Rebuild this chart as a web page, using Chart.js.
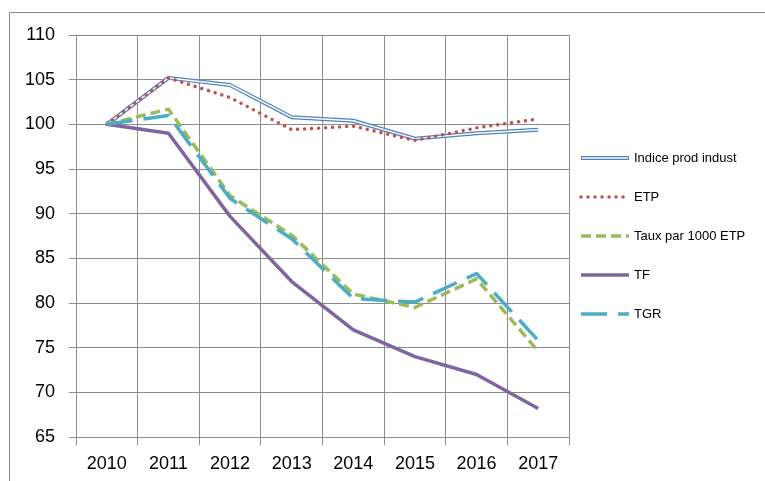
<!DOCTYPE html>
<html>
<head>
<meta charset="utf-8">
<script src="https://cdn.jsdelivr.net/npm/chart.js@4"></script>
<style>
  html, body { margin: 0; padding: 0; background: #fff; }
  #wrap { position: relative; width: 765px; height: 481px; overflow: hidden; }
  #frame { position: absolute; left: 9px; top: 12px; width: 800px; height: 500px;
           border-left: 1px solid #8a8a8a; border-top: 1px solid #8a8a8a; }
  canvas { position: absolute; left: 0; top: 0; }
</style>
</head>
<body>
<div id="wrap">
  <div id="frame"></div>
  <canvas id="chart" width="765" height="481"></canvas>
</div>
<script>
// values (base 100 in 2010)
const years = ['2010', '2011', '2012', '2013', '2014', '2015', '2016', '2017'];
const indiceProd = [100, 105.2, 104.4, 100.8, 100.4, 98.4, 99.0, 99.4];
const etp = [100, 105.2, 103.0, 99.4, 99.8, 98.2, 99.6, 100.6];
const tauxEtp = [100, 101.7, 92.0, 87.6, 81.0, 79.5, 82.7, 74.6];
const tf = [100, 99.0, 89.7, 82.4, 77.0, 74.0, 72.0, 68.2];
const tgr = [100, 101.0, 91.7, 87.2, 80.5, 80.1, 83.3, 75.8];

const yMin = 65, yMax = 110, yStep = 5;

// legend drawn at the right, like the Excel one
const legendPlugin = {
  id: 'sideLegend',
  afterDraw(chart) {
    const ctx = chart.ctx;
    const x0 = 581, x1 = 629;
    let y = 158;
    ctx.save();
    ctx.font = '13px "Liberation Sans", Arial, sans-serif';
    ctx.textBaseline = 'middle';
    chart.data.datasets.forEach(ds => {
      if (!ds.label) return;
      ctx.beginPath();
      ctx.setLineDash(ds.borderDash || []);
      ctx.lineCap = ds.borderCapStyle || 'butt';
      ctx.strokeStyle = ds.borderColor;
      ctx.lineWidth = ds.borderWidth;
      ctx.moveTo(x0, y);
      ctx.lineTo(x1, y);
      ctx.stroke();
      if (ds.doubleLine) {
        ctx.beginPath();
        ctx.setLineDash([]);
        ctx.strokeStyle = '#fff';
        ctx.lineWidth = 1.5;
        ctx.moveTo(x0 + 1, y);
        ctx.lineTo(x1 - 1, y);
        ctx.stroke();
      }
      ctx.setLineDash([]);
      ctx.fillStyle = '#000';
      ctx.fillText(ds.label, 634, y);
      y += 39;
    });
    ctx.restore();
  }
};

const ctx = document.getElementById('chart').getContext('2d');
const chart = new Chart(ctx, {
  type: 'line',
  data: {
    labels: years,
    datasets: [
      {
        label: 'Indice prod indust',
        data: indiceProd,
        borderColor: '#4F81BD',
        borderWidth: 4,
        doubleLine: true,
        order: 6
      },
      {
        label: '',
        data: indiceProd, // white core of the double line
        borderColor: '#fff',
        borderWidth: 1.5,
        order: 5
      },
      {
        label: 'ETP',
        data: etp,
        borderColor: '#C0504D',
        borderWidth: 3.5,
        borderDash: [0.01, 7],
        borderCapStyle: 'round',
        order: 4
      },
      {
        label: 'Taux par 1000 ETP',
        data: tauxEtp,
        borderColor: '#9BBB59',
        borderWidth: 3.5,
        borderDash: [10, 5],
        order: 3
      },
      {
        label: 'TF',
        data: tf,
        borderColor: '#8064A2',
        borderWidth: 3.5,
        order: 2
      },
      {
        label: 'TGR',
        data: tgr,
        borderColor: '#4BACC6',
        borderWidth: 3.5,
        borderDash: [26, 11],
        order: 1
      }
    ]
  },
  options: {
    responsive: false,
    animation: false,
    elements: {
      point: { radius: 0, hoverRadius: 0 },
      line: { tension: 0, fill: false, borderJoinStyle: 'round' }
    },
    layout: { padding: { top: 35, right: 196, left: 0, bottom: 0 } },
    scales: {
      x: {
        offset: true,
        grid: { offset: true, color: '#8c8c8c', lineWidth: 1, tickLength: 8 },
        border: { color: '#8c8c8c' },
        ticks: {
          color: '#000',
          padding: 8,
          maxRotation: 0,
          font: { family: '"Liberation Sans", Arial, sans-serif', size: 18 }
        },
        afterFit: s => { s.height = 44; }
      },
      y: {
        min: yMin,
        max: yMax,
        grid: { color: '#8c8c8c', lineWidth: 1, tickLength: 7 },
        border: { color: '#8c8c8c' },
        ticks: {
          stepSize: yStep,
          color: '#000',
          padding: 14,
          font: { family: '"Liberation Sans", Arial, sans-serif', size: 18 }
        },
        afterFit: s => { s.width = 76; }
      }
    },
    plugins: {
      legend: { display: false },
      tooltip: { enabled: false },
      title: { display: false }
    }
  },
  plugins: [legendPlugin]
});
</script>
</body>
</html>
